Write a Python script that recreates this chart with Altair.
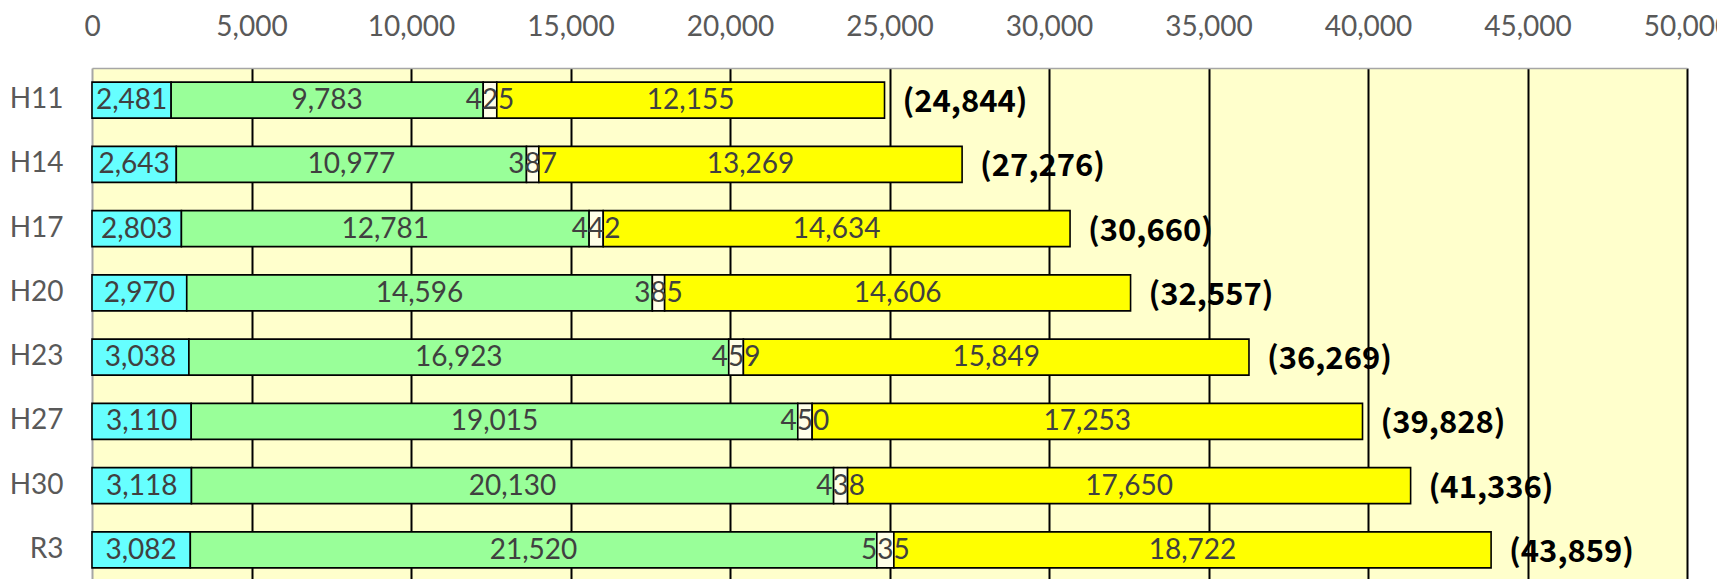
import altair as alt
import pandas as pd

eras = ["H11", "H14", "H17", "H20", "H23", "H27", "H30", "R3"]
series = ["s1", "s2", "s3", "s4"]
seg1 = [2481, 2643, 2803, 2970, 3038, 3110, 3118, 3082]
seg2 = [9783, 10977, 12781, 14596, 16923, 19015, 20130, 21520]
seg3 = [425, 387, 442, 385, 459, 450, 438, 535]
seg4 = [12155, 13269, 14634, 14606, 15849, 17253, 17650, 18722]
totals = [24844, 27276, 30660, 32557, 36269, 39828, 41336, 43859]
colors = ["#66FFFF", "#99FF99", "#FFFFE8", "#FFFF00"]
tick_values = [0, 5000, 10000, 15000, 20000, 25000, 30000, 35000, 40000, 45000, 50000]

rows = []
for i, era in enumerate(eras):
    start = 0
    for s, vals in zip(series, [seg1, seg2, seg3, seg4]):
        v = vals[i]
        rows.append({"era": era, "series": s, "value": v, "start": start, "end": start + v})
        start += v
seg_df = pd.DataFrame(rows)
tot_df = pd.DataFrame({"era": eras, "total": totals})

xscale = alt.Scale(domain=[0, 50000], nice=False, zero=True)
yscale = alt.Scale(domain=eras, paddingInner=0.44, paddingOuter=0.22)

xaxis = alt.Axis(
    orient="top", values=tick_values, format=",.0f", title=None,
    labelFont="Lato", labelFontSize=28, labelColor="#595959", labelPadding=27,
    labelFlush=False, labelOverlap=False,
    ticks=False, tickSize=0,
    domainColor="#A6A6A6", domainWidth=1.5,
    grid=True, gridWidth=2,
    gridColor={"condition": {"test": "datum.value === 0", "value": "transparent"}, "value": "#000000"},
)
yaxis = alt.Axis(
    title=None, labelFont="Lato", labelFontSize=28, labelColor="#595959",
    labelPadding=29, ticks=False, tickSize=0,
    domainColor="#A6A6A6", domainWidth=2, grid=False,
)

bars = alt.Chart(seg_df).mark_bar(stroke="#000000", strokeWidth=1.6).encode(
    y=alt.Y("era:N", scale=yscale, sort=eras, axis=yaxis),
    x=alt.X("start:Q", scale=xscale, axis=xaxis),
    x2="end:Q",
    color=alt.Color("series:N", scale=alt.Scale(domain=series, range=colors), legend=None),
)

seg_text = alt.Chart(seg_df).transform_calculate(
    mid="(datum.start + datum.end) / 2"
).mark_text(font="Lato", fontSize=28, color="#404040", baseline="middle", dy=1).encode(
    y=alt.Y("era:N", scale=yscale, sort=eras, axis=yaxis),
    x=alt.X("mid:Q", scale=xscale, axis=xaxis),
    text=alt.Text("value:Q", format=","),
)

tot_text = alt.Chart(tot_df).transform_calculate(
    label="'(' + format(datum.total, ',') + ')'"
).mark_text(
    font="'Noto Sans CJK JP', 'Liberation Sans', sans-serif",
    fontSize=31, fontWeight="bold", color="#000000", align="left", baseline="middle", dx=18, dy=3,
).encode(
    y=alt.Y("era:N", scale=yscale, sort=eras, axis=yaxis),
    x=alt.X("total:Q", scale=xscale, axis=xaxis),
    text="label:N",
)

chart = alt.layer(bars, seg_text, tot_text).properties(
    width=1595, height=514,
    autosize=alt.AutoSizeParams(type="none"),
    padding={"left": 84, "top": 60, "right": 30, "bottom": 0},
).configure_view(fill="#FFFFCC", strokeWidth=0)

chart.save("out.html", embed_options={"renderer": "svg", "actions": False})
